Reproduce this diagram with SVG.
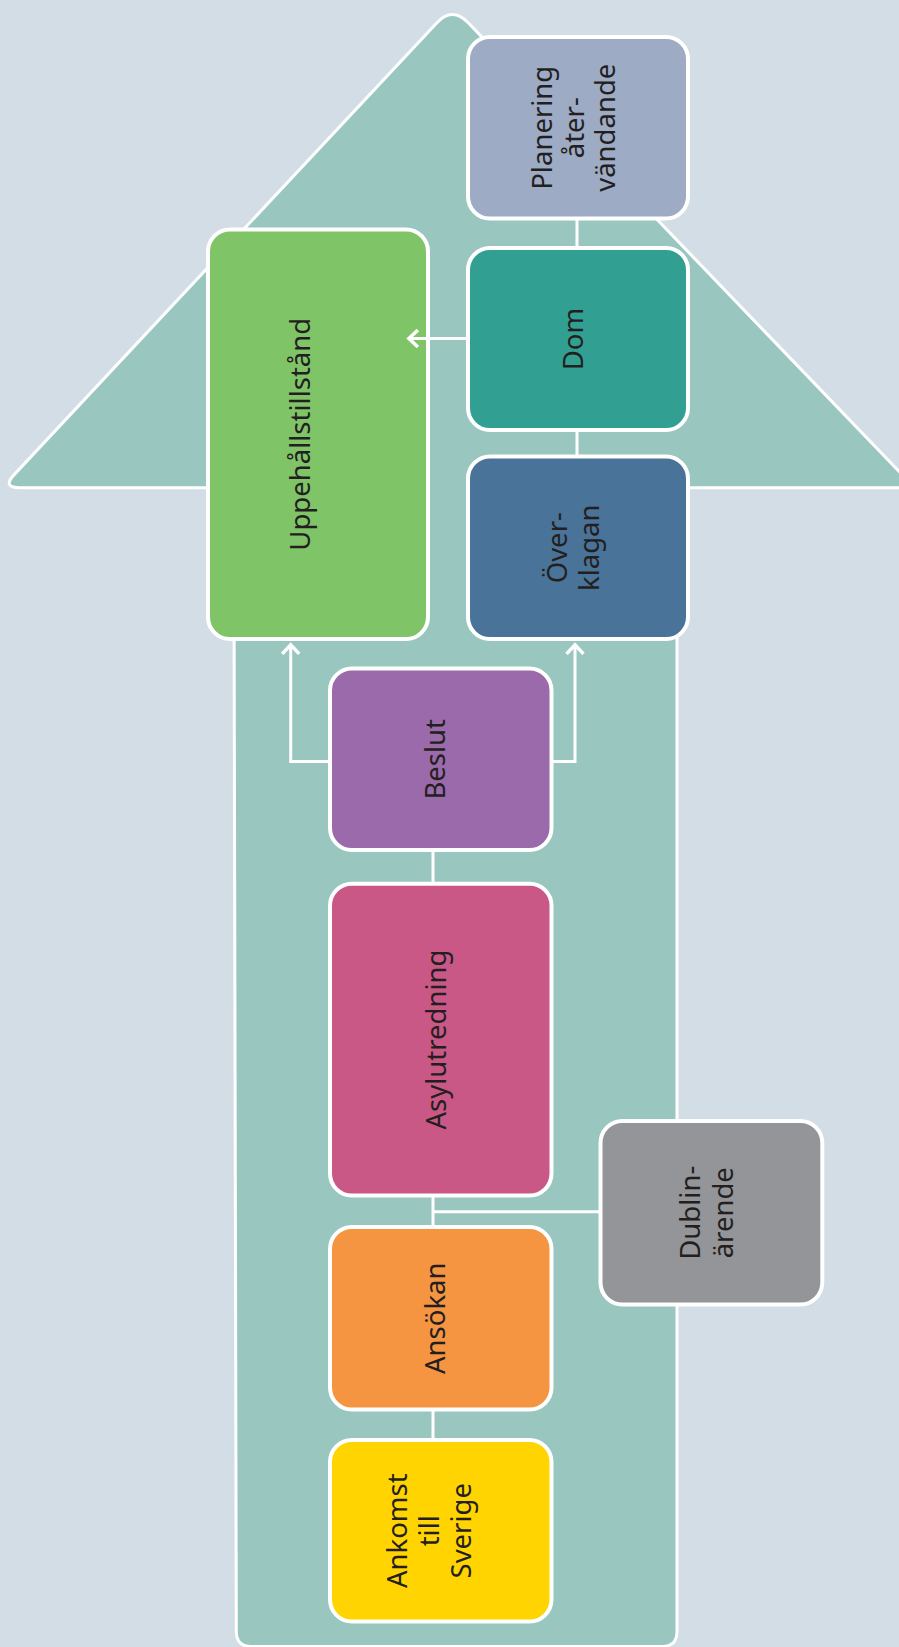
<svg xmlns="http://www.w3.org/2000/svg" width="899" height="1647" viewBox="0 0 899 1647">
<defs>
<style>
.bg{fill:#d3dde6}
.arrow{fill:#99c7c0;stroke:#fff;stroke-width:3;stroke-linejoin:round}
.box{stroke:#fff;stroke-width:4}
.lbl{font-family:"Noto Sans","Open Sans","DejaVu Sans",sans-serif;font-size:27.5px;fill:#231f20;text-anchor:middle}
.con{fill:none;stroke:#fff;stroke-width:3}
</style>
<marker id="chev" markerWidth="24" markerHeight="24" refX="0" refY="0" orient="auto" markerUnits="userSpaceOnUse" style="overflow:visible">
<path d="M-9,-8.5 L0,0 L-9,8.5" fill="none" stroke="#fff" stroke-width="3.5"/>
</marker>
</defs>
<rect class="bg" x="0" y="0" width="899" height="1647"/>
<path id="big-arrow" class="arrow" d="M233.8,487.7 L19.9,487.7 Q1.9,487.7 14.2,474.6 L436.7,22.9 Q452.3,6.2 468.2,22.7 L914.6,487.7 L677,487.7 L677,1631.5 Q677,1646.5 662,1646.5 L251.3,1646.5 Q236.3,1646.5 236.3,1631.5 Z"/>
<g id="node-planering">
<rect class="box" x="468" y="37" width="220" height="181.5" rx="22" fill="#9dabc5"/>
<text class="lbl" transform="translate(552,127.75) rotate(-90)"><tspan x="0" y="0">Planering</tspan><tspan x="0" y="31.5">åter-</tspan><tspan x="0" y="63">vändande</tspan></text>
</g>
<g id="node-dom">
<rect class="box" x="468" y="248" width="220" height="182" rx="22" fill="#31a092"/>
<text class="lbl" transform="translate(582.5,339) rotate(-90)">Dom</text>
</g>
<g id="node-overklagan">
<rect class="box" x="468" y="456.5" width="220" height="182.5" rx="22" fill="#497398"/>
<text class="lbl" transform="translate(566.5,547.75) rotate(-90)"><tspan x="0" y="0">Över-</tspan><tspan x="0" y="32">klagan</tspan></text>
</g>
<g id="node-uppehallstillstand">
<rect class="box" x="208" y="229.5" width="220" height="409.5" rx="22" fill="#80c468"/>
<text class="lbl" transform="translate(310,434.25) rotate(-90)">Uppehållstillstånd</text>
</g>
<g id="node-beslut">
<rect class="box" x="330" y="668.5" width="221.5" height="181.5" rx="22" fill="#9b6aaa"/>
<text class="lbl" transform="translate(445,759.25) rotate(-90)">Beslut</text>
</g>
<g id="node-asylutredning">
<rect class="box" x="330" y="883.7" width="221.5" height="311.8" rx="22" fill="#c95887"/>
<text class="lbl" transform="translate(445.5,1039.6) rotate(-90)">Asylutredning</text>
</g>
<g id="node-dublin">
<rect class="box" x="600.5" y="1121" width="221.8" height="183.5" rx="22" fill="#939598"/>
<text class="lbl" transform="translate(699.6,1212.75) rotate(-90)"><tspan x="0" y="0">Dublin-</tspan><tspan x="0" y="33">ärende</tspan></text>
</g>
<g id="node-ansokan">
<rect class="box" x="330" y="1227" width="221.5" height="182.5" rx="22" fill="#f69541"/>
<text class="lbl" transform="translate(444.8,1318.25) rotate(-90)">Ansökan</text>
</g>
<g id="node-ankomst">
<rect class="box" x="330" y="1440" width="221.5" height="181.5" rx="22" fill="#ffd400"/>
<text class="lbl" transform="translate(407,1530.75) rotate(-90)"><tspan x="0" y="0">Ankomst</tspan><tspan x="0" y="32.2">till</tspan><tspan x="0" y="64.4">Sverige</tspan></text>
</g>
<g id="connectors">
<path class="con" d="M577,218.5 V248"/>
<path class="con" d="M577,430 V456.5"/>
<path class="con" d="M468,338.5 H408.9" marker-end="url(#chev)"/>
<path class="con" d="M330,761.5 H290.7 V644.9" marker-end="url(#chev)"/>
<path class="con" d="M551.5,761.5 H575 V644.9" marker-end="url(#chev)"/>
<path class="con" d="M433,850 V883.7"/>
<path class="con" d="M433,1195.5 V1227"/>
<path class="con" d="M433,1211.7 H600.5"/>
<path class="con" d="M433,1409.5 V1440"/>
</g>
</svg>
